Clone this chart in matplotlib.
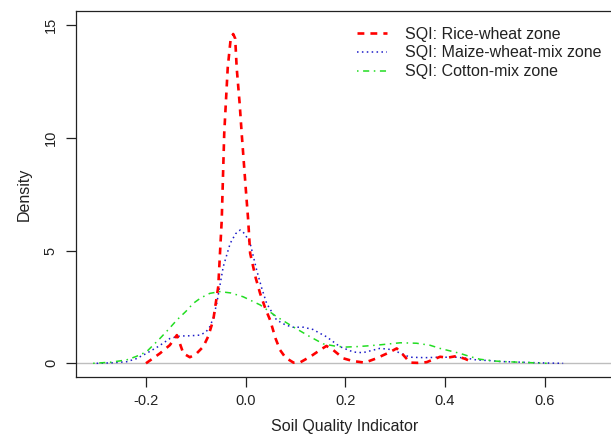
import numpy as np
import matplotlib
matplotlib.use("Agg")
import matplotlib.pyplot as plt

plt.rcParams['font.family'] = ['Liberation Sans', 'DejaVu Sans']

# Rice-wheat zone density
rice_x = [-0.20, -0.172, -0.152, -0.138, -0.125, -0.112, -0.10, -0.085, -0.075, -0.065,
          -0.055, -0.048, -0.043, -0.036, -0.030, -0.025, -0.021, -0.018, -0.012, -0.008,
          0.000, 0.005, 0.009, 0.020, 0.029, 0.040, 0.049, 0.060, 0.069, 0.080,
          0.096, 0.110, 0.130, 0.150, 0.162, 0.175, 0.196, 0.215, 0.239, 0.260,
          0.285, 0.303, 0.315, 0.330, 0.345, 0.363, 0.380, 0.390, 0.405, 0.423,
          0.440, 0.455]
rice_y = [0.0, 0.44, 0.81, 1.25, 0.44, 0.27, 0.40, 0.74, 1.20, 1.92,
          3.40, 6.36, 10.2, 13.1, 14.4, 14.6, 14.4, 13.1, 11.5, 10.2,
          7.8, 6.36, 4.88, 3.8, 3.1, 2.4, 1.92, 1.10, 0.59, 0.25,
          0.03, 0.05, 0.30, 0.60, 0.77, 0.60, 0.22, 0.10, 0.03, 0.20,
          0.45, 0.66, 0.40, 0.03, 0.02, 0.05, 0.20, 0.29, 0.25, 0.32,
          0.20, 0.05]

# Maize-wheat-mix zone
maize_x = [-0.299, -0.27, -0.239, -0.22, -0.199, -0.175, -0.152, -0.132, -0.112, -0.092,
           -0.080, -0.072, -0.065, -0.058, -0.045, -0.031, -0.020, -0.011, -0.002, 0.009,
           0.022, 0.032, 0.042, 0.062, 0.080, 0.095, 0.116, 0.135, 0.149, 0.162,
           0.189, 0.216, 0.235, 0.255, 0.269, 0.285, 0.296, 0.313, 0.330, 0.360,
           0.390, 0.423, 0.445, 0.463, 0.490, 0.510, 0.540, 0.577, 0.610, 0.637]
maize_y = [0.0, 0.02, 0.07, 0.20, 0.44, 0.75, 1.10, 1.21, 1.22, 1.25,
           1.38, 1.62, 2.00, 2.66, 4.28, 5.32, 5.75, 5.91, 5.75, 5.32,
           4.14, 3.35, 2.66, 1.92, 1.70, 1.60, 1.60, 1.50, 1.33, 1.18,
           0.74, 0.50, 0.47, 0.58, 0.66, 0.63, 0.59, 0.42, 0.27, 0.25,
           0.27, 0.27, 0.22, 0.15, 0.12, 0.08, 0.06, 0.03, 0.01, 0.0]

# Cotton-mix zone
cotton_x = [-0.306, -0.27, -0.239, -0.22, -0.199, -0.172, -0.155, -0.138, -0.12, -0.105,
            -0.09, -0.072, -0.052, -0.03, -0.005, 0.029, 0.062, 0.095, 0.129, 0.156,
            0.18, 0.20, 0.223, 0.243, 0.27, 0.31, 0.343, 0.37, 0.39, 0.41,
            0.43, 0.45, 0.47, 0.50, 0.524, 0.56, 0.59, 0.604]
cotton_y = [0.0, 0.05, 0.15, 0.30, 0.51, 1.10, 1.50, 1.92, 2.30, 2.66,
            2.90, 3.10, 3.18, 3.12, 2.95, 2.59, 2.07, 1.62, 1.18, 0.86,
            0.76, 0.72, 0.74, 0.77, 0.82, 0.91, 0.89, 0.80, 0.66, 0.55,
            0.44, 0.30, 0.18, 0.10, 0.07, 0.04, 0.01, 0.0]

labels = ["SQI: Rice-wheat zone", "SQI: Maize-wheat-mix zone", "SQI: Cotton-mix zone"]
x_ticks = [-0.2, 0.0, 0.2, 0.4, 0.6]
y_ticks = [0, 5, 10, 15]

W, H = 611, 437
fig = plt.figure(figsize=(W / 100, H / 100), dpi=100)
ax = fig.add_axes([76 / W, 1 - 377 / H, (613.5 - 76) / W, (377 - 11) / H])

ax.axhline(0, color="#bebebe", lw=1, zorder=1)
ax.plot(rice_x, rice_y, color="#ff0000", lw=1.9, dashes=(2.6, 2.3), label=labels[0], zorder=3)
ax.plot(maize_x, maize_y, color="#1c1cc8", lw=1.1, dashes=(1, 2.2), label=labels[1], zorder=2)
ax.plot(cotton_x, cotton_y, color="#22dd22", lw=1.1, dashes=(1, 3, 4, 3), label=labels[2], zorder=2)

ax.set_xlim(-0.3404, 0.738)
ax.set_ylim(-0.607, 15.62)
ax.set_xticks(x_ticks)
ax.set_xticklabels(["-0.2", "0.0", "0.2", "0.4", "0.6"])
ax.set_yticks(y_ticks)
ax.set_yticklabels([str(v) for v in y_ticks], rotation=90, va="center")
ax.tick_params(direction="out", length=7, width=0.9, labelsize=10.5, colors="#222222", pad=5)
ax.tick_params(axis="y", pad=6)
for s in ax.spines.values():
    s.set_linewidth(0.9)
    s.set_color("#222222")

ax.set_xlabel("Soil Quality Indicator", fontsize=11.5, color="#222222", labelpad=8)
ax.set_ylabel("Density", fontsize=11.5, color="#222222", labelpad=9)

ax.legend(loc="upper left", bbox_to_anchor=(356.7 / W, 1 - 26.5 / H),
          bbox_transform=fig.transFigure, frameon=False, fontsize=11.5,
          handlelength=1.9, handletextpad=1.1, labelspacing=0.25,
          borderpad=0, borderaxespad=0, labelcolor="#222222")

fig.savefig("out.png", dpi=100)
